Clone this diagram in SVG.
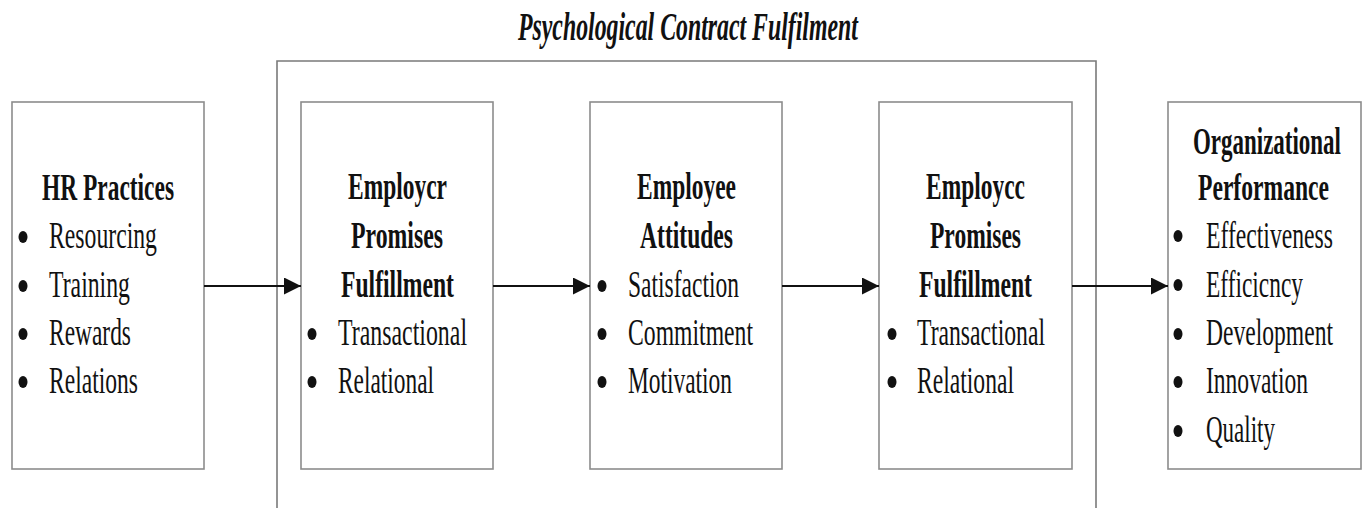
<svg xmlns="http://www.w3.org/2000/svg" width="1363" height="508" viewBox="0 0 1363 508">
<style>
.box{fill:#fff;stroke:#8c8c8c;stroke-width:1.6}
.frame{fill:none;stroke:#7a7a7a;stroke-width:1.6}
.h{font-family:"Liberation Serif","Times New Roman",serif;font-weight:bold;font-size:37px;fill:#111}
.t{font-family:"Liberation Serif","Times New Roman",serif;font-size:38px;fill:#111}
.title{font-family:"Liberation Serif","Times New Roman",serif;font-weight:bold;font-style:italic;font-size:40px;fill:#111}
.b{fill:#111}
.c{stroke:#111;stroke-width:2;fill:none}
</style>
<defs>
<marker id="ah" markerWidth="17" markerHeight="17" viewBox="0 0 17 17" refX="17" refY="8.5" orient="auto" markerUnits="userSpaceOnUse">
<path d="M0,0 L17,8.5 L0,17 Z" fill="#111"/>
</marker>
</defs>
<rect width="1363" height="508" fill="#fff"/>
<g id="container">
<path class="frame" d="M277,510 V61 H1096 V510"/>
<text class="title" transform="matrix(0.66 0 0 1 518 40)" textLength="515" lengthAdjust="spacingAndGlyphs">Psychological Contract Fulfilment</text>
</g>
<g id="hr">
<rect class="box" x="12" y="102" width="192" height="367"/>
<text class="h" transform="matrix(0.66 0 0 1 42 200)" textLength="200" lengthAdjust="spacingAndGlyphs">HR Practices</text>
<ellipse class="b" cx="23" cy="237" rx="4.5" ry="6"/>
<text class="t" transform="matrix(0.66 0 0 1 49 248)" textLength="163.6" lengthAdjust="spacingAndGlyphs">Resourcing</text>
<ellipse class="b" cx="23" cy="286" rx="4.5" ry="6"/>
<text class="t" transform="matrix(0.66 0 0 1 49 297)" textLength="122.7" lengthAdjust="spacingAndGlyphs">Training</text>
<ellipse class="b" cx="23" cy="334" rx="4.5" ry="6"/>
<text class="t" transform="matrix(0.66 0 0 1 49 345)" textLength="124.2" lengthAdjust="spacingAndGlyphs">Rewards</text>
<ellipse class="b" cx="23" cy="382" rx="4.5" ry="6"/>
<text class="t" transform="matrix(0.66 0 0 1 49 393)" textLength="134.8" lengthAdjust="spacingAndGlyphs">Relations</text>
</g>
<g id="employer">
<rect class="box" x="301" y="102" width="192" height="367"/>
<text class="h" transform="matrix(0.66 0 0 1 348 199)" textLength="150" lengthAdjust="spacingAndGlyphs">Employcr</text>
<text class="h" transform="matrix(0.66 0 0 1 351 248)" textLength="139.4" lengthAdjust="spacingAndGlyphs">Promises</text>
<text class="h" transform="matrix(0.66 0 0 1 341 297)" textLength="171.2" lengthAdjust="spacingAndGlyphs">Fulfillment</text>
<ellipse class="b" cx="312" cy="334" rx="4.5" ry="6"/>
<text class="t" transform="matrix(0.66 0 0 1 338 345)" textLength="195.5" lengthAdjust="spacingAndGlyphs">Transactional</text>
<ellipse class="b" cx="312" cy="382" rx="4.5" ry="6"/>
<text class="t" transform="matrix(0.66 0 0 1 338 393)" textLength="145.5" lengthAdjust="spacingAndGlyphs">Relational</text>
</g>
<g id="attitudes">
<rect class="box" x="590" y="102" width="192" height="367"/>
<text class="h" transform="matrix(0.66 0 0 1 637 199)" textLength="150" lengthAdjust="spacingAndGlyphs">Employee</text>
<text class="h" transform="matrix(0.66 0 0 1 640 248)" textLength="140.9" lengthAdjust="spacingAndGlyphs">Attitudes</text>
<ellipse class="b" cx="602" cy="286" rx="4.5" ry="6"/>
<text class="t" transform="matrix(0.66 0 0 1 628 297)" textLength="168.2" lengthAdjust="spacingAndGlyphs">Satisfaction</text>
<ellipse class="b" cx="602" cy="334" rx="4.5" ry="6"/>
<text class="t" transform="matrix(0.66 0 0 1 628 345)" textLength="189.4" lengthAdjust="spacingAndGlyphs">Commitment</text>
<ellipse class="b" cx="602" cy="382" rx="4.5" ry="6"/>
<text class="t" transform="matrix(0.66 0 0 1 628 393)" textLength="157.6" lengthAdjust="spacingAndGlyphs">Motivation</text>
</g>
<g id="employee">
<rect class="box" x="879" y="102" width="193" height="367"/>
<text class="h" transform="matrix(0.66 0 0 1 926 199)" textLength="150" lengthAdjust="spacingAndGlyphs">Employcc</text>
<text class="h" transform="matrix(0.66 0 0 1 930 248)" textLength="137.9" lengthAdjust="spacingAndGlyphs">Promises</text>
<text class="h" transform="matrix(0.66 0 0 1 919 297)" textLength="171.2" lengthAdjust="spacingAndGlyphs">Fulfillment</text>
<ellipse class="b" cx="892" cy="334" rx="4.5" ry="6"/>
<text class="t" transform="matrix(0.66 0 0 1 917 345)" textLength="193.9" lengthAdjust="spacingAndGlyphs">Transactional</text>
<ellipse class="b" cx="892" cy="382" rx="4.5" ry="6"/>
<text class="t" transform="matrix(0.66 0 0 1 917 393)" textLength="147" lengthAdjust="spacingAndGlyphs">Relational</text>
</g>
<g id="performance">
<rect class="box" x="1168" y="102" width="193" height="367"/>
<text class="h" transform="matrix(0.66 0 0 1 1193 154)" textLength="224.2" lengthAdjust="spacingAndGlyphs">Organizational</text>
<text class="h" transform="matrix(0.66 0 0 1 1198 200)" textLength="198.5" lengthAdjust="spacingAndGlyphs">Performance</text>
<ellipse class="b" cx="1178" cy="236" rx="4.5" ry="6"/>
<text class="t" transform="matrix(0.66 0 0 1 1206 248)" textLength="192.4" lengthAdjust="spacingAndGlyphs">Effectiveness</text>
<ellipse class="b" cx="1178" cy="285" rx="4.5" ry="6"/>
<text class="t" transform="matrix(0.66 0 0 1 1206 297)" textLength="147" lengthAdjust="spacingAndGlyphs">Efficicncy</text>
<ellipse class="b" cx="1178" cy="334" rx="4.5" ry="6"/>
<text class="t" transform="matrix(0.66 0 0 1 1206 345)" textLength="192.4" lengthAdjust="spacingAndGlyphs">Development</text>
<ellipse class="b" cx="1178" cy="382" rx="4.5" ry="6"/>
<text class="t" transform="matrix(0.66 0 0 1 1206 393)" textLength="154.5" lengthAdjust="spacingAndGlyphs">Innovation</text>
<ellipse class="b" cx="1178" cy="431" rx="4.5" ry="6"/>
<text class="t" transform="matrix(0.66 0 0 1 1206 442)" textLength="104.5" lengthAdjust="spacingAndGlyphs">Quality</text>
</g>
<g id="connectors">
<line class="c" x1="204" y1="286" x2="301" y2="286" marker-end="url(#ah)"/>
<line class="c" x1="493" y1="286" x2="590" y2="286" marker-end="url(#ah)"/>
<line class="c" x1="782" y1="286" x2="879" y2="286" marker-end="url(#ah)"/>
<line class="c" x1="1072" y1="286" x2="1168" y2="286" marker-end="url(#ah)"/>
</g>
</svg>
